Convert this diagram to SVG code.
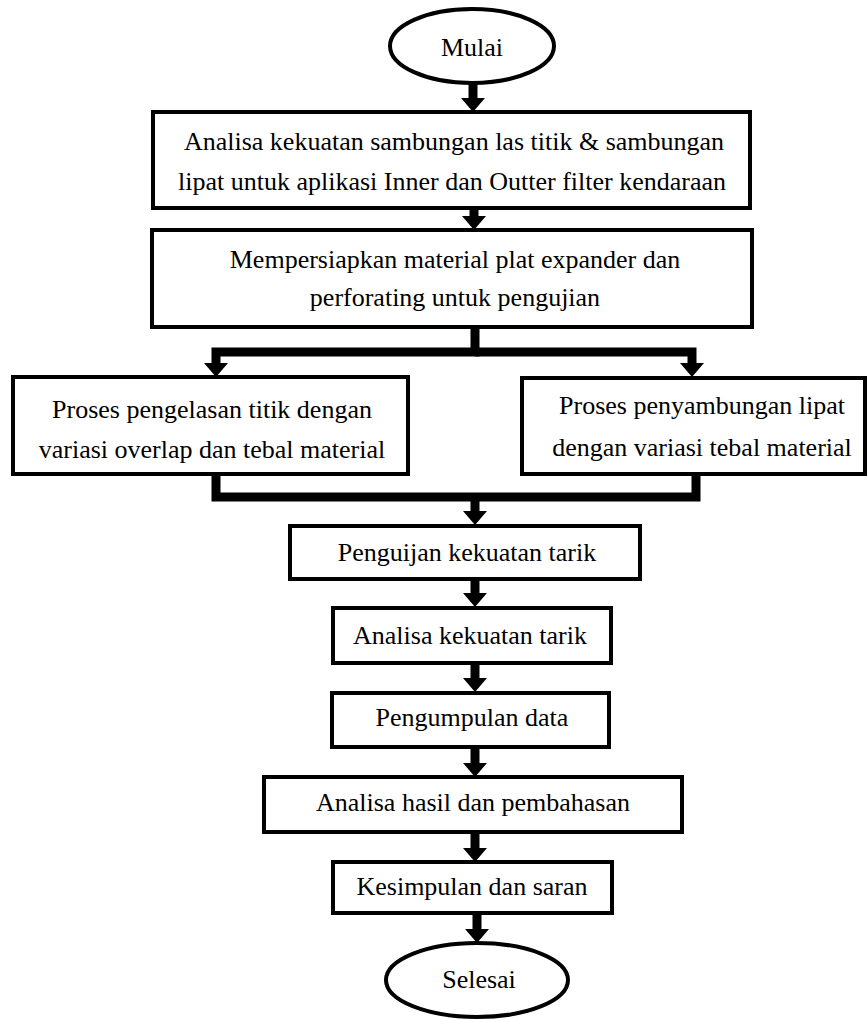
<svg xmlns="http://www.w3.org/2000/svg" width="868" height="1019" viewBox="0 0 868 1019">
<style>
.box{fill:#fff;stroke:#000;stroke-width:4}
.t{font-family:"Liberation Serif","Times New Roman",serif;font-size:26px;fill:#000;text-anchor:middle}
.c{fill:none;stroke:#000;stroke-width:9;stroke-linejoin:miter}
</style>
<defs>
<marker id="ah" markerUnits="userSpaceOnUse" markerWidth="14" markerHeight="24" refX="0" refY="12" orient="auto" viewBox="0 0 14 24">
<path d="M0,0 L14,12 L0,24 z" fill="#000"/>
</marker>
</defs>
<rect width="868" height="1019" fill="#fff"/>
<g id="connectors">
<path class="c" d="M473,84 V98" marker-end="url(#ah)"/>
<path class="c" d="M474,208 V216" marker-end="url(#ah)"/>
<path class="c" d="M475,327 V352 H216 V363" marker-end="url(#ah)"/>
<path class="c" d="M475,352 H692 V363" marker-end="url(#ah)"/>
<path class="c" d="M216,475 V497 H475"/>
<path class="c" d="M696,475 V497 H475"/>
<path class="c" d="M475,497 V511" marker-end="url(#ah)"/>
<path class="c" d="M475,579 V593" marker-end="url(#ah)"/>
<path class="c" d="M475,663 V678" marker-end="url(#ah)"/>
<path class="c" d="M475,747 V763" marker-end="url(#ah)"/>
<path class="c" d="M475,832 V848" marker-end="url(#ah)"/>
<path class="c" d="M477,913 V929" marker-end="url(#ah)"/>
</g>
<g id="mulai">
<ellipse class="box" cx="472" cy="46" rx="82" ry="37"/>
<text class="t" x="472" y="56">Mulai</text>
</g>
<g id="analisa-sambungan">
<rect class="box" x="153" y="112" width="597" height="96"/>
<text class="t" x="454" y="150">Analisa kekuatan sambungan las titik &amp; sambungan</text>
<text class="t" x="452" y="190">lipat untuk aplikasi Inner dan Outter filter kendaraan</text>
</g>
<g id="persiapan">
<rect class="box" x="152" y="230" width="600" height="97"/>
<text class="t" x="455" y="268">Mempersiapkan material plat expander dan</text>
<text class="t" x="455" y="306">perforating untuk pengujian</text>
</g>
<g id="las-titik">
<rect class="box" x="13" y="377" width="395" height="97"/>
<text class="t" x="212" y="418">Proses pengelasan titik dengan</text>
<text class="t" x="212" y="458">variasi overlap dan tebal material</text>
</g>
<g id="lipat">
<rect class="box" x="522" y="378" width="343" height="96"/>
<text class="t" x="702" y="414">Proses penyambungan lipat</text>
<text class="t" x="702" y="456">dengan variasi tebal material</text>
</g>
<g id="uji-tarik">
<rect class="box" x="290" y="526" width="350" height="53"/>
<text class="t" x="467" y="561">Penguijan kekuatan tarik</text>
</g>
<g id="analisa-tarik">
<rect class="box" x="333" y="608" width="278" height="55"/>
<text class="t" x="470" y="644">Analisa kekuatan tarik</text>
</g>
<g id="pengumpulan">
<rect class="box" x="332" y="693" width="277" height="54"/>
<text class="t" x="472" y="726">Pengumpulan data</text>
</g>
<g id="analisa-hasil">
<rect class="box" x="264" y="777" width="418" height="55"/>
<text class="t" x="473" y="811">Analisa hasil dan pembahasan</text>
</g>
<g id="kesimpulan">
<rect class="box" x="333" y="862" width="279" height="51"/>
<text class="t" x="472" y="895">Kesimpulan dan saran</text>
</g>
<g id="selesai">
<ellipse class="box" cx="477" cy="980" rx="91" ry="37"/>
<text class="t" x="479" y="988">Selesai</text>
</g>
</svg>
